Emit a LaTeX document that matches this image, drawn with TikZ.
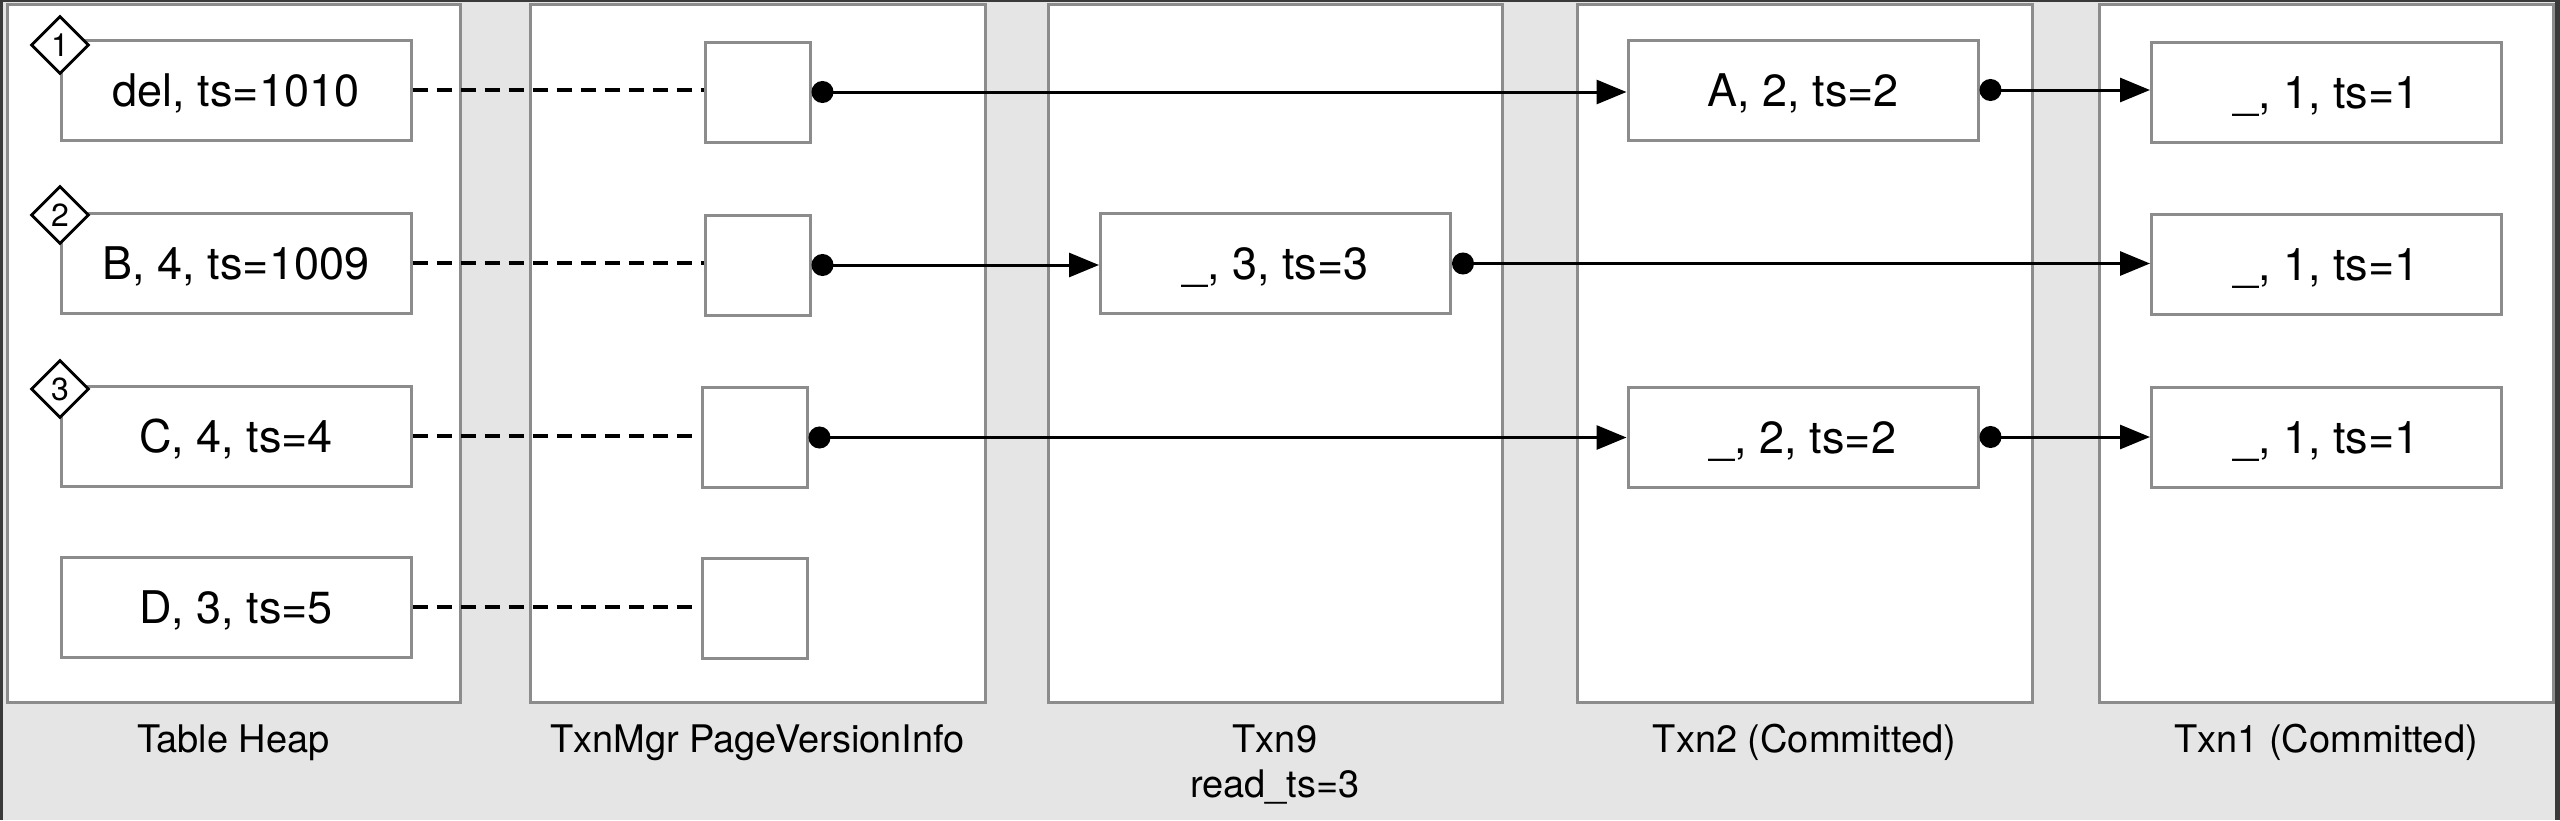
\documentclass[tikz,border=0pt]{standalone}
\usepackage{fontspec}
\setmainfont{TeX Gyre Heros}
\usetikzlibrary{arrows.meta,shapes.geometric}
\definecolor{bg}{HTML}{E5E5E5}
\definecolor{bord}{HTML}{8C8C8C}
\definecolor{framec}{HTML}{3A3A3A}
\begin{document}
\begin{tikzpicture}[x=0.5pt,y=-0.5pt,
  panel/.style={draw=bord, fill=white, line width=1.5pt},
  rec/.style={draw=bord, fill=white, line width=1.5pt, minimum height=50pt,
    minimum width=175pt, inner sep=0pt, font=\fontsize{22.5}{26}\selectfont,
    text height=16.2pt, text depth=0pt},
  sq/.style={draw=bord, fill=white, line width=1.5pt, minimum height=50pt,
    minimum width=52.5pt, inner sep=0pt},
  dia/.style={diamond, draw=black, fill=white, line width=1.4pt, aspect=1,
    minimum width=29pt, minimum height=29pt, inner sep=0pt,
    font=\fontsize{16}{18}\selectfont, text height=11.5pt, text depth=0pt},
  lab/.style={font=\fontsize{19}{22}\selectfont, inner sep=0pt, anchor=base},
  conn/.style={line width=1.5pt, {Circle[length=11pt]}-{Triangle[length=15pt,width=12pt]}},
  dsh/.style={line width=1.6pt, dash pattern=on 7.5pt off 4.5pt},
]
\useasboundingbox (0,0) rectangle (2560,820);
\fill[bg] (0,0) rectangle (2560,820);
% window frame
\draw[framec, line width=1.5pt] (1.5,820) -- (1.5,0);
\draw[framec, line width=1pt] (0,1) -- (2560,1);
\draw[framec, line width=2.5pt] (2557.5,0) -- (2557.5,820);

% panels
\path[panel] (7,4) rectangle (460,702);
\path[panel] (530,4) rectangle (985,702);
\path[panel] (1048,4) rectangle (1502,702);
\path[panel] (1577,4) rectangle (2032,702);
\path[panel] (2099,4) rectangle (2553,702);

% table heap
\node[rec] (h1) at (236,90) {del, ts=1010};
\node[rec] (h2) at (236,263) {B, 4, ts=1009};
\node[rec] (h3) at (236,436) {C, 4, ts=4};
\node[rec] (h4) at (236,607) {D, 3, ts=5};
\node[dia] (d1) at (60,45) {1};
\node[dia] (d2) at (60,215) {2};
\node[dia] (d3) at (60,389) {3};

% page version info
\node[sq] (m1) at (757.5,92) {};
\node[sq] (m2) at (757.5,265) {};
\node[sq] (m3) at (754.5,437.5) {};
\node[sq] (m4) at (754.5,608.5) {};

% txn9
\node[rec] (t9) at (1275.5,263.5) {\_, 3, ts=3};
% txn2
\node[rec] (a2) at (1803,90) {A, 2, ts=2};
\node[rec] (c2) at (1803,437) {\_, 2, ts=2};
% txn1
\node[rec] (a1) at (2326.5,92.5) {\_, 1, ts=1};
\node[rec] (b1) at (2326.5,264.5) {\_, 1, ts=1};
\node[rec] (c1) at (2326.5,437.5) {\_, 1, ts=1};

% dashed links
\draw[dsh] (h1.east) -- (h1.east -| m1.west);
\draw[dsh] (h2.east) -- (h2.east -| m2.west);
\draw[dsh] (h3.east) -- (h3.east -| m3.west);
\draw[dsh] (h4.east) -- (h4.east -| m4.west);

% version chains
\draw[conn] (m1.east) -- (m1.east -| a2.west);
\draw[conn] (a2.east) -- (a2.east -| a1.west);
\draw[conn] (m2.east) -- (m2.east -| t9.west);
\draw[conn] (t9.east) -- (t9.east -| b1.west);
\draw[conn] (m3.east) -- (m3.east -| c2.west);
\draw[conn] (c2.east) -- (c2.east -| c1.west);

% labels
\node[lab] (l1) at (233.5,752) {Table Heap};
\node[lab] (l2) at (757.5,752) {TxnMgr PageVersionInfo};
\node[lab] (l3) at (1275,752) {Txn9};
\node[lab] (l3b) at (1275,797) {read\_ts=3};
\node[lab] (l4) at (1804.5,752) {Txn2 (Committed)};
\node[lab] (l5) at (2326,752) {Txn1 (Committed)};
\end{tikzpicture}
\end{document}
